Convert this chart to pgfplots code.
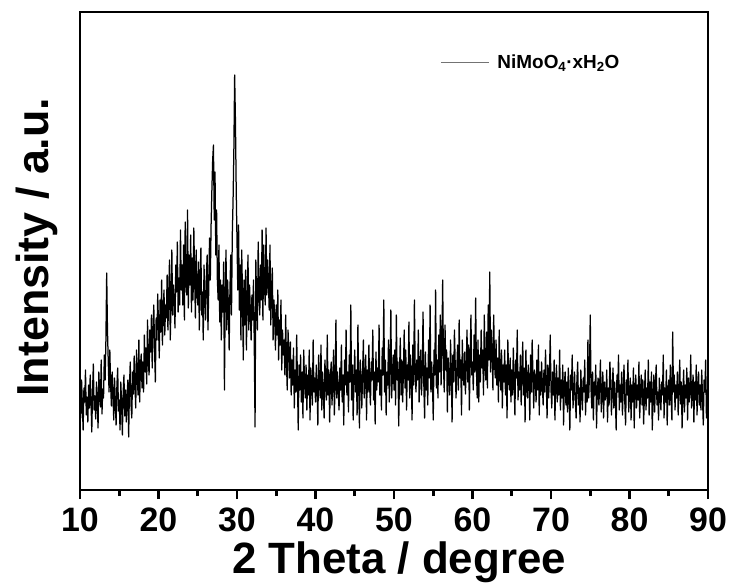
\documentclass[border=0pt]{standalone}
\usepackage{pgfplots}
\pgfplotsset{compat=1.18}
\usepackage{fontspec}
\setmainfont{Liberation Sans}
\begin{document}
\begin{tikzpicture}
\begin{axis}[
 scale only axis, width=628bp, height=478bp,
 xmin=10, xmax=90, ymin=0, ymax=478,
 xtick={10,20,...,90}, minor x tick num=1,
 ytick=\empty,
 xtick pos=bottom, tick align=outside,
 major tick length=9bp, minor tick length=6bp,
 every axis/.append style={line width=2.6bp},
 axis line style={line width=2.6bp, black},
 every tick/.style={black, line width=2.6bp},
 /pgf/number format/assume math mode=true,
 xticklabel style={font=\fontsize{34}{34}\selectfont\bfseries, anchor=base, inner sep=0pt, yshift=-32bp},
 xlabel={2 Theta / degree}, ylabel={Intensity / a.u.},
 xlabel style={font=\fontsize{44}{44}\selectfont\bfseries, at={(axis description cs:0.508,-0.174)}, anchor=base, inner sep=0pt},
 ylabel style={font=\fontsize{45}{45}\selectfont\bfseries, at={(axis description cs:-0.0685,0.508)}, anchor=center, inner sep=0pt},
 legend style={draw=none, fill=none, at={(axis description cs:0.572,0.895)}, anchor=west, font=\fontsize{19}{19}\selectfont\bfseries, inner sep=0pt},
 legend cell align=left,
 legend image code/.code={\draw[line width=0.7bp, black!55] (0bp,0bp) -- (48bp,0bp); \path (54bp,0bp);},
]
\addplot[black, line width=1.25bp, line join=round] coordinates {
(10.0,95)(10.1,72)(10.2,110)(10.3,85)(10.4,60)(10.5,102)(10.6,88)(10.7,120)(10.8,75)(10.9,93)
(11.0,68)(11.1,105)(11.2,82)(11.3,115)(11.4,90)(11.5,58)(11.6,99)(11.7,126)(11.8,80)(11.9,94)
(12.0,71)(12.1,108)(12.2,88)(12.3,62)(12.4,118)(12.5,97)(12.6,83)(12.7,130)(12.8,76)(12.9,101)
(13.0,92)(13.1,135)(13.2,110)(13.3,150)(13.4,217)(13.5,160)(13.6,128)(13.7,98)(13.8,140)(13.9,105)
(14.0,84)(14.1,118)(14.2,96)(14.3,70)(14.4,112)(14.5,88)(14.6,65)(14.7,104)(14.8,122)(14.9,79)
(15.0,90)(15.1,60)(15.2,108)(15.3,86)(15.4,55)(15.5,98)(15.6,115)(15.7,74)(15.8,100)(15.9,68)
(16.0,95)(16.1,110)(16.2,53)(16.3,102)(16.4,128)(16.5,85)(16.6,72)(16.7,118)(16.8,96)(16.9,134)
(17.0,105)(17.1,82)(17.2,140)(17.3,112)(17.4,95)(17.5,150)(17.6,88)(17.7,124)(17.8,136)(17.9,102)
(18.0,128)(18.1,98)(18.2,155)(18.3,118)(18.4,142)(18.5,106)(18.6,170)(18.7,130)(18.8,115)(18.9,160)
(19.0,138)(19.1,175)(19.2,122)(19.3,160)(19.4,185)(19.5,140)(19.6,108)(19.7,172)(19.8,150)(19.9,196)
(20.0,165)(20.1,132)(20.2,190)(20.3,158)(20.4,210)(20.5,145)(20.6,178)(20.7,200)(20.8,155)(20.9,185)
(21.0,172)(21.1,215)(21.2,160)(21.3,195)(21.4,230)(21.5,150)(21.6,188)(21.7,240)(21.8,175)(21.9,205)
(22.0,190)(22.1,162)(22.2,225)(22.3,198)(22.4,248)(22.5,178)(22.6,212)(22.7,185)(22.8,260)(22.9,200)
(23.0,225)(23.1,185)(23.2,245)(23.3,170)(23.4,268)(23.5,210)(23.6,195)(23.7,280)(23.8,182)(23.9,235)
(24.0,205)(24.1,255)(24.2,178)(24.3,232)(24.4,190)(24.5,262)(24.6,215)(24.7,172)(24.8,240)(24.9,198)
(25.0,185)(25.1,228)(25.2,160)(25.3,210)(25.4,242)(25.5,175)(25.6,198)(25.7,150)(25.8,225)(25.9,190)
(26.0,170)(26.1,215)(26.2,235)(26.3,160)(26.4,200)(26.5,252)(26.6,210)(26.7,265)(26.8,300)(26.9,330)
(27.0,345)(27.1,270)(27.2,318)(27.3,235)(27.4,280)(27.5,210)(27.6,190)(27.7,245)(27.8,168)(27.9,210)
(28.0,150)(28.1,205)(28.2,178)(28.3,228)(28.4,100)(28.5,195)(28.6,240)(28.7,160)(28.8,210)(28.9,185)
(29.0,140)(29.1,200)(29.2,235)(29.3,175)(29.4,255)(29.5,290)(29.6,340)(29.7,415)(29.8,370)(29.9,300)
(30.0,250)(30.1,200)(30.2,265)(30.3,180)(30.4,225)(30.5,150)(30.6,240)(30.7,195)(30.8,130)(30.9,210)
(31.0,165)(31.1,220)(31.2,140)(31.3,190)(31.4,235)(31.5,160)(31.6,205)(31.7,178)(31.8,150)(31.9,195)
(32.0,170)(32.1,210)(32.2,145)(32.3,63)(32.4,230)(32.5,185)(32.6,160)(32.7,248)(32.8,200)(32.9,175)
(33.0,225)(33.1,190)(33.2,260)(33.3,170)(33.4,245)(33.5,205)(33.6,185)(33.7,262)(33.8,195)(33.9,230)
(34.0,210)(34.1,180)(34.2,245)(34.3,165)(34.4,200)(34.5,222)(34.6,150)(34.7,190)(34.8,175)(34.9,140)
(35.0,185)(35.1,155)(35.2,200)(35.3,130)(35.4,170)(35.5,145)(35.6,190)(35.7,120)(35.8,160)(35.9,135)
(36.0,150)(36.1,115)(36.2,175)(36.3,128)(36.4,100)(36.5,160)(36.6,138)(36.7,112)(36.8,148)(36.9,95)
(37.0,130)(37.1,105)(37.2,142)(37.3,82)(37.4,120)(37.5,98)(37.6,155)(37.7,110)(37.8,60)(37.9,125)
(38.0,100)(38.1,135)(38.2,88)(38.3,118)(38.4,72)(38.5,140)(38.6,108)(38.7,92)(38.8,125)(38.9,80)
(39.0,115)(39.1,95)(39.2,140)(39.3,70)(39.4,122)(39.5,105)(39.6,85)(39.7,150)(39.8,98)(39.9,112)
(40.0,88)(40.1,125)(40.2,102)(40.3,65)(40.4,135)(40.5,110)(40.6,92)(40.7,145)(40.8,80)(40.9,118)
(41.0,100)(41.1,72)(41.2,130)(41.3,108)(41.4,90)(41.5,155)(41.6,95)(41.7,120)(41.8,68)(41.9,112)
(42.0,128)(42.1,85)(42.2,110)(42.3,140)(42.4,75)(42.5,105)(42.6,170)(42.7,92)(42.8,118)(42.9,98)
(43.0,80)(43.1,122)(43.2,100)(43.3,145)(43.4,88)(43.5,115)(43.6,65)(43.7,130)(43.8,105)(43.9,160)
(44.0,95)(44.1,118)(44.2,78)(44.3,135)(44.4,108)(44.5,185)(44.6,90)(44.7,125)(44.8,70)(44.9,110)
(45.0,140)(45.1,98)(45.2,120)(45.3,75)(45.4,165)(45.5,105)(45.6,62)(45.7,130)(45.8,112)(45.9,82)
(46.0,118)(46.1,150)(46.2,92)(46.3,108)(46.4,135)(46.5,70)(46.6,120)(46.7,98)(46.8,145)(46.9,102)
(47.0,85)(47.1,128)(47.2,110)(47.3,160)(47.4,90)(47.5,118)(47.6,66)(47.7,138)(47.8,100)(47.9,122)
(48.0,108)(48.1,165)(48.2,95)(48.3,120)(48.4,80)(48.5,142)(48.6,115)(48.7,190)(48.8,98)(48.9,130)
(49.0,75)(49.1,118)(49.2,105)(49.3,150)(49.4,88)(49.5,125)(49.6,180)(49.7,92)(49.8,115)(49.9,135)
(50.0,100)(50.1,140)(50.2,85)(50.3,175)(50.4,110)(50.5,128)(50.6,64)(50.7,115)(50.8,152)(50.9,95)
(51.0,130)(51.1,88)(51.2,118)(51.3,160)(51.4,102)(51.5,140)(51.6,80)(51.7,125)(51.8,110)(51.9,168)
(52.0,92)(52.1,135)(52.2,115)(52.3,70)(52.4,145)(52.5,105)(52.6,190)(52.7,120)(52.8,98)(52.9,130)
(53.0,110)(53.1,160)(53.2,88)(53.3,125)(53.4,140)(53.5,95)(53.6,118)(53.7,178)(53.8,105)(53.9,72)
(54.0,138)(54.1,100)(54.2,122)(54.3,85)(54.4,150)(54.5,112)(54.6,185)(54.7,98)(54.8,128)(54.9,108)
(55.0,70)(55.1,140)(55.2,115)(55.3,200)(55.4,102)(55.5,130)(55.6,92)(55.7,155)(55.8,118)(55.9,175)
(56.0,105)(56.1,145)(56.2,210)(56.3,125)(56.4,98)(56.5,165)(56.6,120)(56.7,140)(56.8,78)(56.9,132)
(57.0,115)(57.1,95)(57.2,150)(57.3,120)(57.4,68)(57.5,135)(57.6,108)(57.7,160)(57.8,125)(57.9,92)
(58.0,120)(58.1,145)(58.2,100)(58.3,170)(58.4,112)(58.5,130)(58.6,75)(58.7,150)(58.8,118)(58.9,105)
(59.0,138)(59.1,96)(59.2,122)(59.3,160)(59.4,108)(59.5,145)(59.6,80)(59.7,130)(59.8,175)(59.9,115)
(60.0,128)(60.1,100)(60.2,155)(60.3,118)(60.4,192)(60.5,120)(60.6,92)(60.7,150)(60.8,88)(60.9,135)
(61.0,108)(61.1,160)(61.2,122)(61.3,140)(61.4,95)(61.5,175)(61.6,125)(61.7,110)(61.8,158)(61.9,102)
(62.0,185)(62.1,130)(62.2,218)(62.3,118)(62.4,160)(62.5,140)(62.6,100)(62.7,175)(62.8,128)(62.9,112)
(63.0,150)(63.1,105)(63.2,132)(63.3,88)(63.4,160)(63.5,118)(63.6,100)(63.7,140)(63.8,82)(63.9,125)
(64.0,108)(64.1,140)(64.2,95)(64.3,125)(64.4,72)(64.5,150)(64.6,115)(64.7,100)(64.8,132)(64.9,88)
(65.0,120)(65.1,95)(65.2,142)(65.3,108)(65.4,75)(65.5,130)(65.6,112)(65.7,160)(65.8,90)(65.9,118)
(66.0,100)(66.1,135)(66.2,85)(66.3,118)(66.4,148)(66.5,95)(66.6,122)(66.7,68)(66.8,140)(66.9,105)
(67.0,92)(67.1,125)(67.2,110)(67.3,70)(67.4,135)(67.5,98)(67.6,150)(67.7,115)(67.8,82)(67.9,120)
(68.0,110)(68.1,88)(68.2,130)(68.3,100)(68.4,145)(68.5,75)(68.6,118)(68.7,95)(68.8,128)(68.9,105)
(69.0,85)(69.1,120)(69.2,98)(69.3,140)(69.4,108)(69.5,72)(69.6,125)(69.7,92)(69.8,112)(69.9,155)
(70.0,100)(70.1,82)(70.2,118)(70.3,95)(70.4,130)(70.5,70)(70.6,108)(70.7,125)(70.8,88)(70.9,112)
(71.0,95)(71.1,140)(71.2,80)(71.3,110)(71.4,92)(71.5,125)(71.6,65)(71.7,105)(71.8,118)(71.9,85)
(72.0,108)(72.1,78)(72.2,122)(72.3,95)(72.4,60)(72.5,115)(72.6,100)(72.7,135)(72.8,82)(72.9,98)
(73.0,118)(73.1,90)(73.2,72)(73.3,110)(73.4,128)(73.5,85)(73.6,102)(73.7,68)(73.8,120)(73.9,95)
(74.0,80)(74.1,112)(74.2,98)(74.3,130)(74.4,75)(74.5,105)(74.6,88)(74.7,150)(74.8,92)(74.9,115)
(75.0,175)(75.1,100)(75.2,82)(75.3,118)(75.4,70)(75.5,108)(75.6,95)(75.7,125)(75.8,62)(75.9,100)
(76.0,112)(76.1,85)(76.2,105)(76.3,130)(76.4,78)(76.5,98)(76.6,118)(76.7,72)(76.8,108)(76.9,90)
(77.0,95)(77.1,120)(77.2,68)(77.3,102)(77.4,85)(77.5,128)(77.6,110)(77.7,75)(77.8,98)(77.9,122)
(78.0,82)(78.1,108)(78.2,92)(78.3,60)(78.4,115)(78.5,98)(78.6,135)(78.7,80)(78.8,105)(78.9,88)
(79.0,118)(79.1,75)(79.2,100)(79.3,125)(79.4,88)(79.5,65)(79.6,110)(79.7,95)(79.8,130)(79.9,78)
(80.0,98)(80.1,112)(80.2,70)(80.3,105)(80.4,88)(80.5,122)(80.6,62)(80.7,100)(80.8,115)(80.9,82)
(81.0,105)(81.1,90)(81.2,128)(81.3,72)(81.4,98)(81.5,115)(81.6,85)(81.7,110)(81.8,66)(81.9,95)
(82.0,120)(82.1,80)(82.2,102)(82.3,92)(82.4,130)(82.5,75)(82.6,108)(82.7,88)(82.8,118)(82.9,60)
(83.0,92)(83.1,115)(83.2,78)(83.3,105)(83.4,125)(83.5,85)(83.6,98)(83.7,70)(83.8,112)(83.9,95)
(84.0,80)(84.1,108)(84.2,95)(84.3,135)(84.4,72)(84.5,102)(84.6,88)(84.7,120)(84.8,65)(84.9,100)
(85.0,110)(85.1,85)(85.2,125)(85.3,92)(85.4,70)(85.5,158)(85.6,98)(85.7,115)(85.8,80)(85.9,105)
(86.0,92)(86.1,118)(86.2,75)(86.3,100)(86.4,130)(86.5,86)(86.6,108)(86.7,62)(86.8,98)(86.9,120)
(87.0,78)(87.1,105)(87.2,92)(87.3,122)(87.4,70)(87.5,112)(87.6,88)(87.7,100)(87.8,135)(87.9,82)
(88.0,98)(88.1,115)(88.2,68)(88.3,108)(88.4,90)(88.5,125)(88.6,75)(88.7,102)(88.8,118)(88.9,85)
(89.0,105)(89.1,80)(89.2,120)(89.3,92)(89.4,65)(89.5,110)(89.6,98)(89.7,130)(89.8,72)(89.9,100)
(90.0,92)
};
\addlegendentry{NiMoO\textsubscript{4}·xH\textsubscript{2}O}
\end{axis}
\pgfresetboundingbox
\path (current axis.south west) ++(-80bp,-93bp) coordinate (bbA);
\path (current axis.north east) ++(21bp,12bp) coordinate (bbB);
\path[use as bounding box] (bbA) rectangle (bbB);
\end{tikzpicture}
\end{document}
